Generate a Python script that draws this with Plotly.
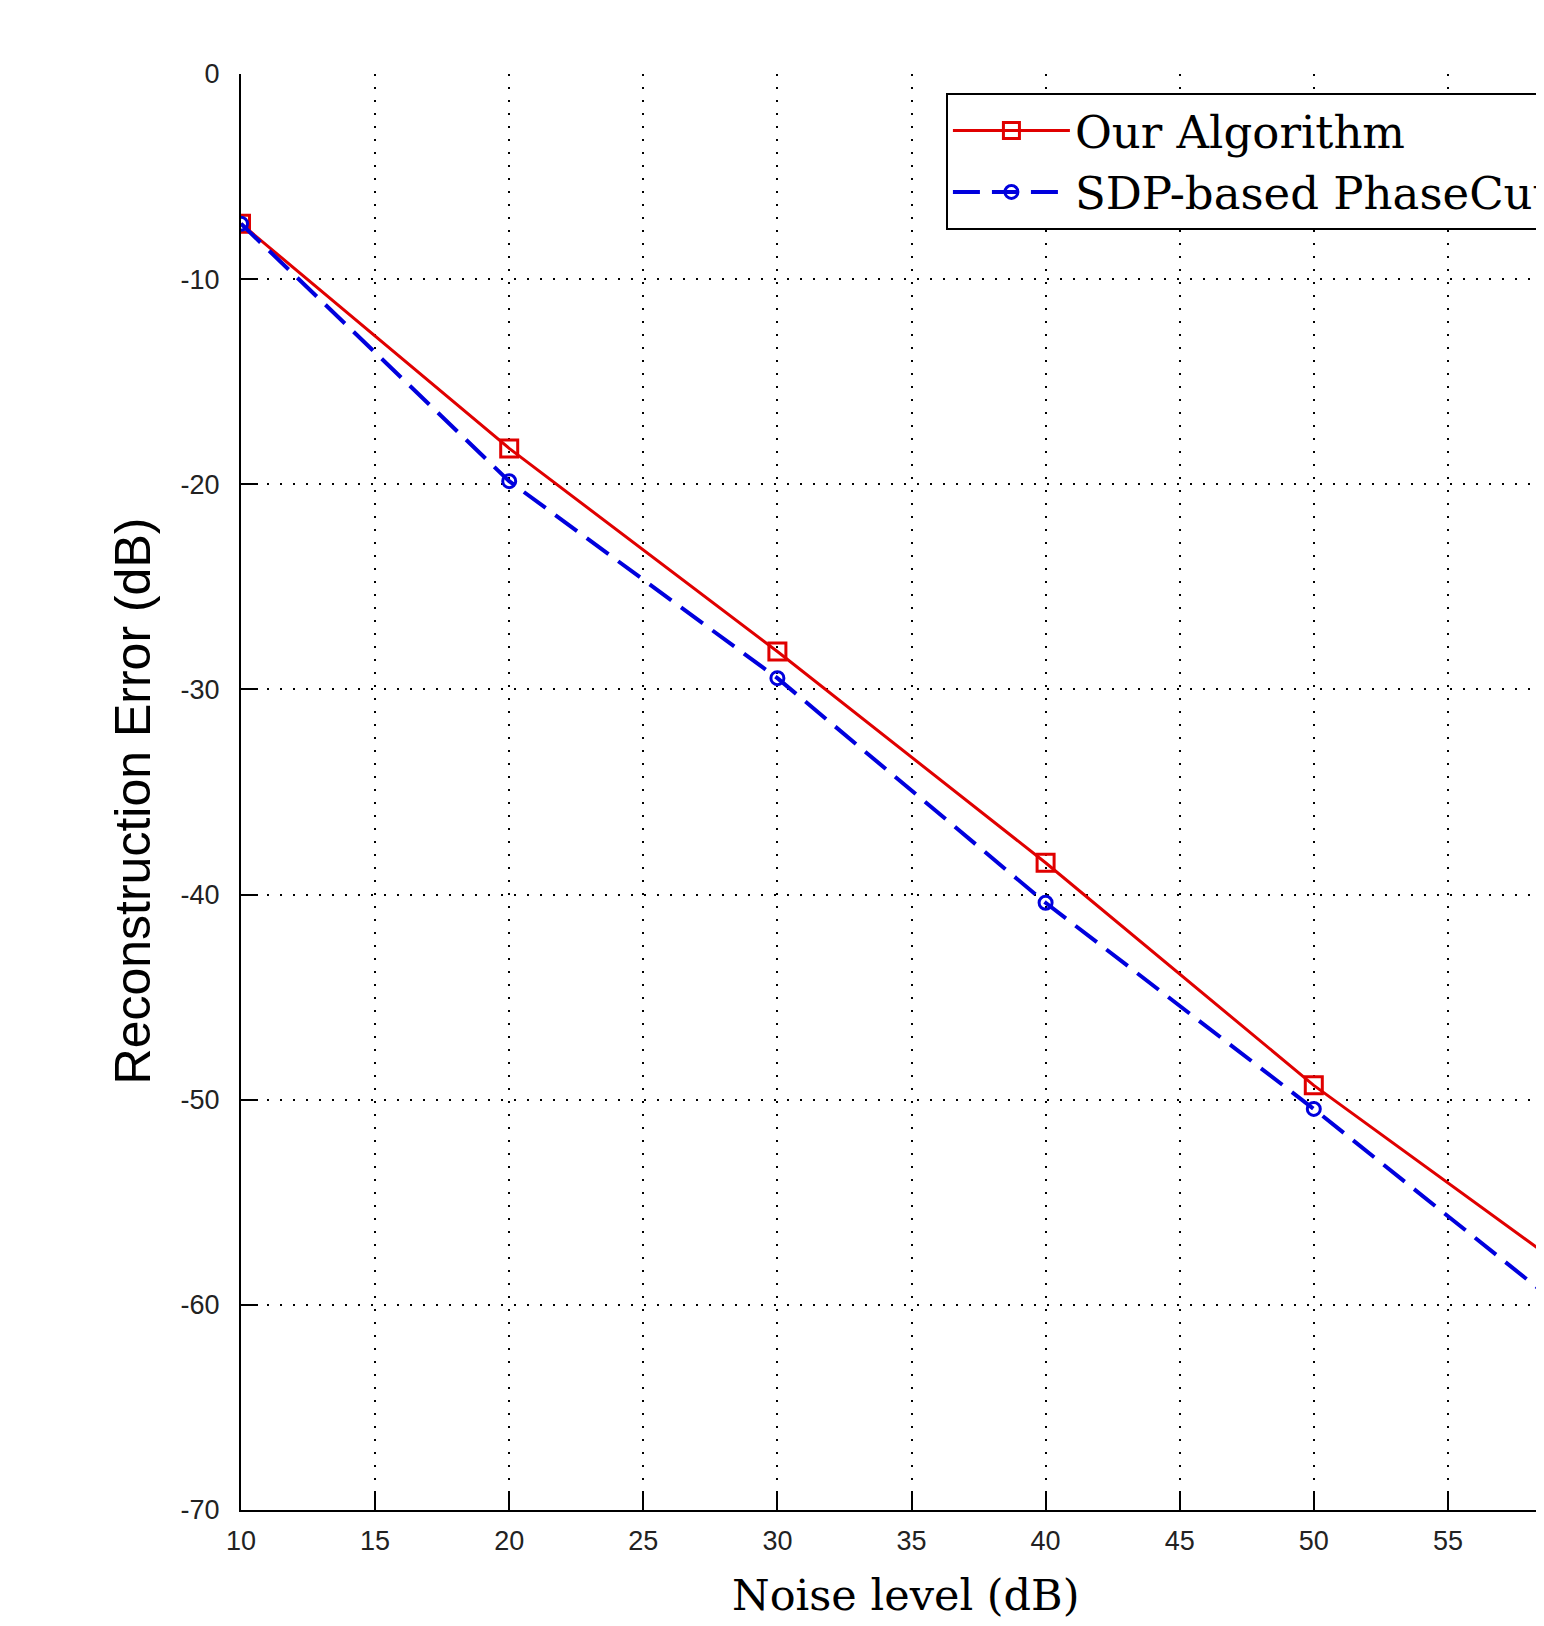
import plotly.graph_objects as go

noise_db = [10, 20, 30, 40, 50, 60]
ours = [-7.3, -18.25, -28.15, -38.45, -49.3, -58.8]
sdp = [-7.3, -19.85, -29.45, -40.4, -50.45, -60.9]
x_ticks = [10, 15, 20, 25, 30, 35, 40, 45, 50, 55, 60]
y_ticks = [0, -10, -20, -30, -40, -50, -60, -70]
x_tick_text = [str(v) for v in x_ticks]
y_tick_text = [str(v) for v in y_ticks]  # plain hyphen minus like the original

# page body has an 8px margin; figure is sized to fill the window
W, H = 1536, 1618
L, T, B = 233, 66, 116
px_per_unit = 26.82
x_right = 10 + (W - L) / px_per_unit

fig = go.Figure()
fig.add_trace(go.Scatter(
    x=noise_db, y=ours, name="Our Algorithm", mode="lines+markers",
    line=dict(color="#e00000", width=3),
    marker=dict(symbol="square-open", size=17, color="#e00000", line=dict(width=3, color="#e00000")),
))
fig.add_trace(go.Scatter(
    x=noise_db, y=sdp, name="SDP-based PhaseCut", mode="lines+markers",
    line=dict(color="#0000dd", width=4, dash="27px,12px"),
    marker=dict(symbol="circle-open", size=13, color="#0000dd", line=dict(width=3, color="#0000dd")),
))

axis_common = dict(
    showline=True, linecolor="black", linewidth=2, mirror=False,
    ticks="inside", ticklen=17, tickwidth=2, tickcolor="black",
    showgrid=True, gridcolor="black", gridwidth=2, griddash="2px,11px",
    zeroline=False,
    tickfont=dict(family="Liberation Sans, Arial, sans-serif", size=27, color="#222222"),
)

fig.update_layout(
    width=W, height=H,
    margin=dict(l=L, r=0, t=T, b=B, autoexpand=False),
    paper_bgcolor="white", plot_bgcolor="white",
    xaxis=dict(range=[10, x_right], tickvals=x_ticks, ticktext=x_tick_text,
               ticklabelstandoff=6, **axis_common),
    yaxis=dict(range=[-70, 0], tickvals=y_ticks, ticktext=y_tick_text,
               ticklabelstandoff=14, **axis_common),
    legend=dict(
        x=0.541, y=0.987, xanchor="left", yanchor="top",
        bgcolor="white", bordercolor="black", borderwidth=2,
        font=dict(family="DejaVu Serif, Liberation Serif, serif", size=45, color="black"),
        tracegroupgap=0, itemwidth=117,
    ),
    showlegend=True,
    annotations=[
        dict(text="Noise level (dB)", xref="x", yref="paper", x=34.8, y=-0.059,
             xanchor="center", yanchor="middle", showarrow=False,
             font=dict(family="DejaVu Serif, Liberation Serif, serif", size=43, color="black")),
        dict(text="Reconstruction Error (dB)", xref="paper", yref="paper", x=-0.083, y=0.494,
             xanchor="center", yanchor="middle", textangle=-90, showarrow=False,
             font=dict(family="Liberation Sans, Arial, sans-serif", size=50, color="black")),
    ],
)

fig.write_html("out.html")
